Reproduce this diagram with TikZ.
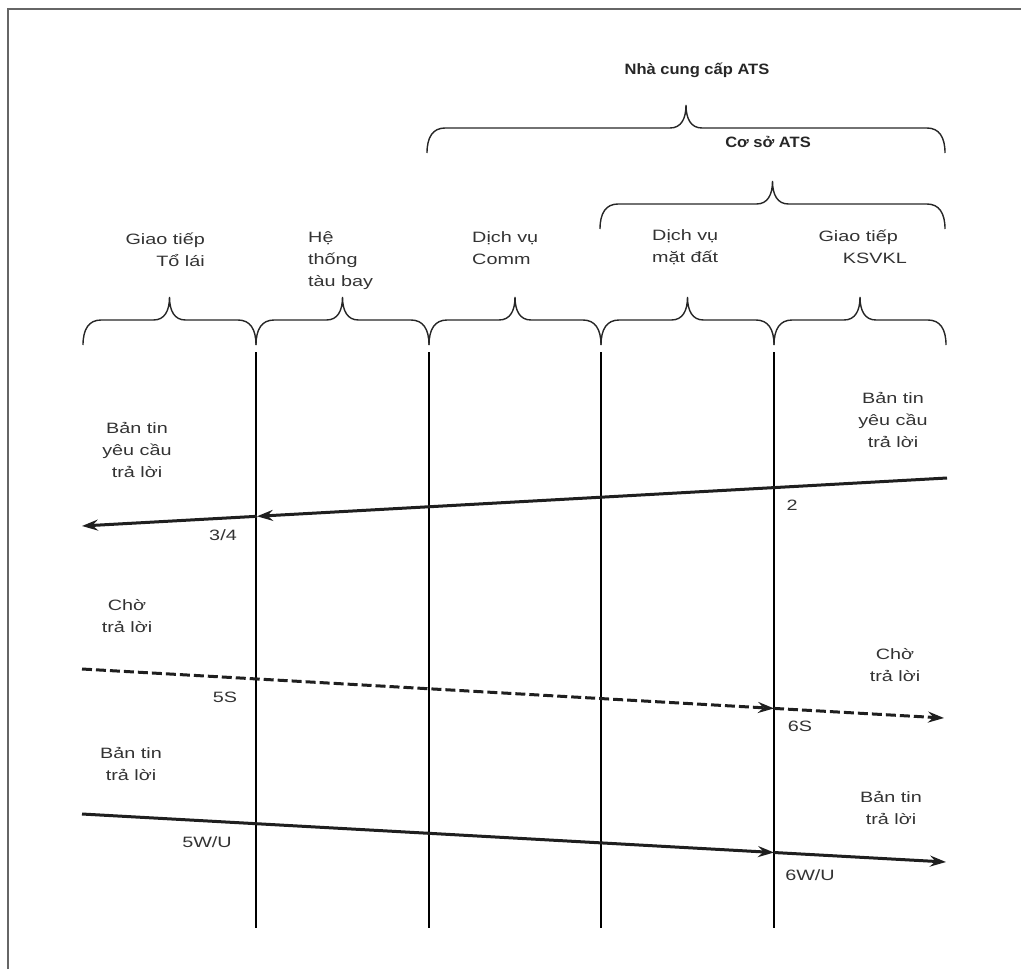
\documentclass[tikz,border=0pt]{standalone}
\usepackage{fontspec}
\setmainfont{Liberation Sans}[FakeStretch=1.32]
\newfontfamily\titlefont{Liberation Sans}[FakeStretch=1.1]
\usetikzlibrary{arrows.meta}
\newcommand\mybrace[3]{% x0, x1, y of the horizontal
  \draw[bracestyle] (#1,#3+25) .. controls (#1,#3+9) and (#1+6,#3) .. (#1+18,#3)
    -- ({(#1+#2)/2-16},#3) .. controls ({(#1+#2)/2-5},#3) and ({(#1+#2)/2},#3-9) .. ({(#1+#2)/2},#3-23)
    .. controls ({(#1+#2)/2},#3-9) and ({(#1+#2)/2+5},#3) .. ({(#1+#2)/2+16},#3)
    -- (#2-18,#3) .. controls (#2-6,#3) and (#2,#3+9) .. (#2,#3+25);}
\begin{document}
\begin{tikzpicture}[x=1pt,y=-1pt,
  lbl/.style={font=\fontsize{15}{22}\selectfont, text=black!80, inner sep=0pt},
  ttl/.style={font=\titlefont\bfseries\fontsize{15}{18}\selectfont, text=black!85, inner sep=0pt},
  bracestyle/.style={line width=1.4pt, black!85},
  lifeline/.style={line width=1.3pt, black},
  tip/.style={-{Stealth[length=16pt,width=11pt,inset=5.5pt]}},
  msg/.style={line width=3pt, black!88, tip},
  dmsg/.style={msg, dash pattern=on 10pt off 4pt}
]
\useasboundingbox (0,0) rectangle (1024,969);
% frame
\draw[line width=2pt, black!60] (7.5,969) -- (7.5,8.5) -- (1021,8.5);

% titles and upper braces
\node[ttl] (nha) at (697,70) {Nhà cung cấp ATS};
\mybrace{427}{945}{128}
\node[ttl] (coso) at (768,142) {Cơ sở ATS};
\mybrace{600}{945}{204}

% column labels
\node[lbl, align=right, anchor=east] (col1) at (205,250) {Giao tiếp\\Tổ lái};
\node[lbl, align=left, anchor=west] (col2) at (308,261) {Hệ\\thống\\tàu bay};
\node[lbl, align=left, anchor=west] (col3) at (472,248) {Dịch vụ\\Comm};
\node[lbl, align=left, anchor=west] (col4) at (652,247) {Dịch vụ\\mặt đất};
\node[lbl, align=right, anchor=east] (col5) at (907,247) {Giao tiếp\hspace*{9pt}\\KSVKL};

% lower braces
\mybrace{83}{256}{320}
\mybrace{256}{429}{320}
\mybrace{429}{601}{320}
\mybrace{601}{774}{320}
\mybrace{774}{946}{320}

% lifelines
\foreach \i/\x in {1/256,2/429,3/601,4/774}{
  \coordinate (L\i t) at (\x,352);
  \coordinate (L\i b) at (\x,928);
  \draw[lifeline] (L\i t) -- (L\i b);
}

% message 1: request
\coordinate (m1s) at (947,478);
\coordinate (m1x) at (257,516.3);
\coordinate (m1e) at (82,526);
\draw[msg] (m1s) -- (m1x);
\draw[msg] (m1x) -- (m1e);
\node[lbl, align=center] (req1) at (137,450) {Bản tin\\yêu cầu\\trả lời};
\node[lbl, align=center] (req2) at (893,420) {Bản tin\\yêu cầu\\trả lời};
\node[lbl] (n2) at (792,505) {2};
\node[lbl] (n34) at (223,535) {3/4};

% message 2: wait (dashed)
\coordinate (m2s) at (82,669);
\coordinate (m2x) at (774,708.4);
\coordinate (m2e) at (944,718);
\draw[dmsg] (m2s) -- (m2x);
\draw[dmsg] (m2x) -- (m2e);
\node[lbl, align=center] (wait1) at (127,616) {Chờ\\trả lời};
\node[lbl, align=center] (wait2) at (895,665) {Chờ\\trả lời};
\node[lbl] (n5s) at (225,697) {5S};
\node[lbl] (n6s) at (800,726) {6S};

% message 3: response
\coordinate (m3s) at (82,814);
\coordinate (m3x) at (774,852.5);
\coordinate (m3e) at (946,862);
\draw[msg] (m3s) -- (m3x);
\draw[msg] (m3x) -- (m3e);
\node[lbl, align=center] (resp1) at (131,764) {Bản tin\\trả lời};
\node[lbl, align=center] (resp2) at (891,808) {Bản tin\\trả lời};
\node[lbl] (n5w) at (207,842) {5W/U};
\node[lbl] (n6w) at (810,875) {6W/U};
\end{tikzpicture}
\end{document}
